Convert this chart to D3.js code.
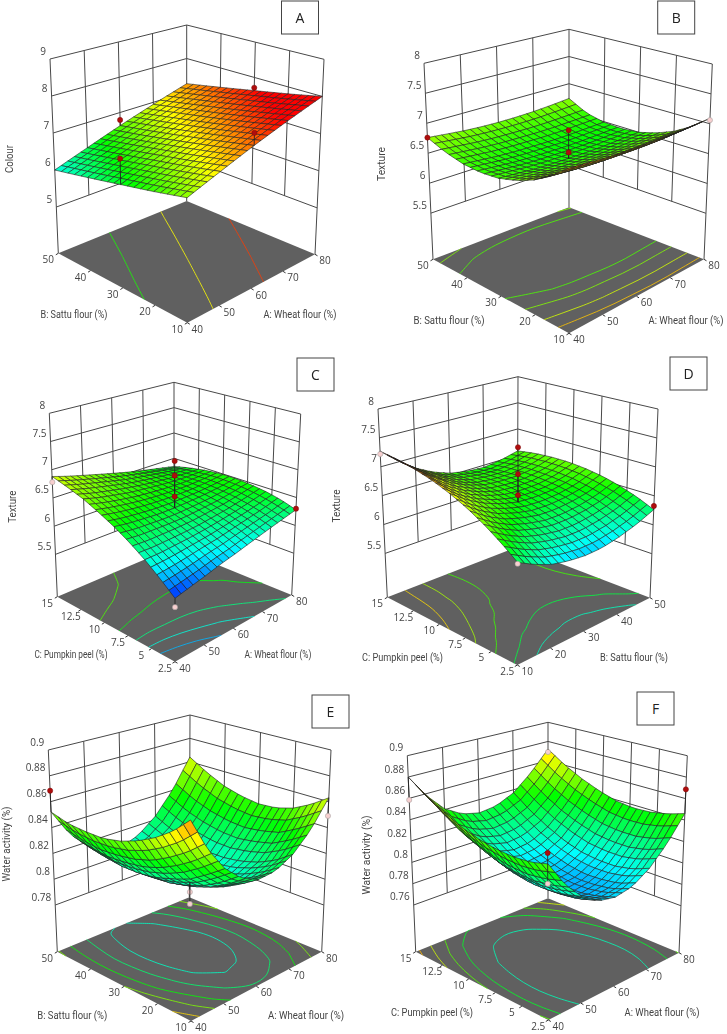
<!DOCTYPE html>
<html>
<head>
<meta charset="utf-8">
<script src="https://cdn.jsdelivr.net/npm/d3@7"></script>
<style>
  html, body { margin: 0; background: #fff; }
  svg { display: block; filter: blur(0.4px); }
  text { font-family: "Open Sans", sans-serif; fill: #444; }
  text.title { font-family: Roboto, sans-serif; }
</style>
</head>
<body>
<div class="chart"></div>
<script>
// tick labels
const wheatTicks = [40, 50, 60, 70, 80];
const sattuTicks = [10, 20, 30, 40, 50];
const peelTicks = [2.5, 5, 7.5, 10, 12.5, 15];
const colourTicks = [5, 6, 7, 8, 9];
const textureTicks = [5.5, 6, 6.5, 7, 7.5, 8];
const waterTicksE = [0.78, 0.8, 0.82, 0.84, 0.86, 0.88, 0.9];
const waterTicksF = [0.76, 0.78, 0.8, 0.82, 0.84, 0.86, 0.88, 0.9];

// surface heights, one row per step of the right hand factor
const colourAB = [
  [6.75, 6.56, 6.38, 6.19, 6.00],
  [7.06, 6.87, 6.69, 6.50, 6.31],
  [7.38, 7.19, 7.00, 6.81, 6.63],
  [7.69, 7.50, 7.31, 7.13, 6.94],
  [8.00, 7.81, 7.63, 7.44, 7.25]
];
const textureAB = [
  [7.17, 6.95, 6.78, 6.66, 6.58, 6.55, 6.57, 6.64, 6.76],
  [7.14, 6.92, 6.75, 6.63, 6.55, 6.52, 6.54, 6.61, 6.73],
  [7.11, 6.89, 6.72, 6.60, 6.52, 6.49, 6.51, 6.58, 6.70],
  [7.09, 6.87, 6.70, 6.58, 6.50, 6.47, 6.49, 6.56, 6.68],
  [7.08, 6.86, 6.69, 6.57, 6.49, 6.46, 6.48, 6.55, 6.67],
  [7.07, 6.85, 6.68, 6.56, 6.48, 6.45, 6.47, 6.54, 6.67],
  [7.07, 6.85, 6.68, 6.56, 6.48, 6.45, 6.47, 6.54, 6.68],
  [7.08, 6.86, 6.69, 6.57, 6.49, 6.46, 6.48, 6.55, 6.70],
  [7.09, 6.87, 6.70, 6.58, 6.50, 6.47, 6.49, 6.56, 6.73]
];
const textureAC = [
  [5.75, 5.95, 6.14, 6.31, 6.46, 6.59, 6.71, 6.80, 6.88],
  [5.81, 5.98, 6.14, 6.29, 6.42, 6.54, 6.64, 6.73, 6.80],
  [5.87, 6.02, 6.16, 6.29, 6.40, 6.50, 6.59, 6.67, 6.73],
  [5.94, 6.07, 6.18, 6.29, 6.38, 6.47, 6.54, 6.61, 6.66],
  [6.00, 6.11, 6.21, 6.30, 6.38, 6.45, 6.51, 6.55, 6.59],
  [6.07, 6.17, 6.25, 6.33, 6.39, 6.44, 6.48, 6.51, 6.52],
  [6.14, 6.23, 6.30, 6.36, 6.41, 6.44, 6.46, 6.47, 6.46],
  [6.21, 6.29, 6.36, 6.41, 6.44, 6.46, 6.45, 6.44, 6.40],
  [6.28, 6.37, 6.43, 6.47, 6.49, 6.49, 6.46, 6.41, 6.34]
];
const textureBC = [
  [6.31, 6.51, 6.69, 6.85, 6.98, 7.09, 7.17, 7.23, 7.27],
  [6.17, 6.36, 6.52, 6.66, 6.78, 6.87, 6.95, 6.99, 7.02],
  [6.06, 6.24, 6.39, 6.52, 6.63, 6.71, 6.77, 6.80, 6.81],
  [6.00, 6.17, 6.31, 6.43, 6.52, 6.59, 6.63, 6.65, 6.65],
  [5.97, 6.13, 6.26, 6.37, 6.45, 6.51, 6.54, 6.55, 6.54],
  [5.98, 6.13, 6.26, 6.36, 6.43, 6.48, 6.51, 6.51, 6.48],
  [6.04, 6.18, 6.30, 6.39, 6.45, 6.49, 6.51, 6.50, 6.46],
  [6.13, 6.26, 6.37, 6.45, 6.51, 6.54, 6.55, 6.54, 6.50],
  [6.26, 6.39, 6.49, 6.57, 6.62, 6.65, 6.65, 6.63, 6.58]
];
const waterAB = [
  [0.883, 0.871, 0.862, 0.855, 0.850, 0.847, 0.847, 0.848, 0.852],
  [0.858, 0.848, 0.840, 0.833, 0.829, 0.827, 0.826, 0.828, 0.831],
  [0.840, 0.831, 0.823, 0.818, 0.814, 0.812, 0.812, 0.814, 0.817],
  [0.828, 0.819, 0.812, 0.807, 0.804, 0.803, 0.803, 0.805, 0.809],
  [0.822, 0.814, 0.807, 0.803, 0.800, 0.799, 0.800, 0.803, 0.807],
  [0.823, 0.815, 0.809, 0.804, 0.802, 0.802, 0.803, 0.807, 0.812],
  [0.830, 0.821, 0.815, 0.811, 0.809, 0.809, 0.812, 0.816, 0.823],
  [0.843, 0.835, 0.828, 0.825, 0.823, 0.824, 0.827, 0.832, 0.840],
  [0.863, 0.854, 0.847, 0.843, 0.842, 0.844, 0.848, 0.855, 0.864]
];
const waterAC = [
  [0.847, 0.843, 0.842, 0.843, 0.846, 0.851, 0.859, 0.868, 0.880],
  [0.824, 0.820, 0.818, 0.819, 0.822, 0.828, 0.835, 0.846, 0.858],
  [0.808, 0.804, 0.802, 0.802, 0.805, 0.810, 0.818, 0.828, 0.841],
  [0.798, 0.793, 0.791, 0.791, 0.794, 0.799, 0.807, 0.818, 0.831],
  [0.795, 0.790, 0.787, 0.787, 0.790, 0.795, 0.803, 0.814, 0.827],
  [0.798, 0.792, 0.790, 0.789, 0.792, 0.797, 0.805, 0.816, 0.829],
  [0.808, 0.802, 0.799, 0.799, 0.801, 0.806, 0.814, 0.824, 0.837],
  [0.824, 0.818, 0.815, 0.815, 0.817, 0.822, 0.829, 0.839, 0.852],
  [0.846, 0.841, 0.838, 0.837, 0.839, 0.844, 0.851, 0.860, 0.872]
];

// contour levels on the floor
const levelsA = [6.5, 7, 7.5];
const levelsB = [6.6, 6.71, 6.87, 7.03];
const levelsC = [5.95, 6.1, 6.25, 6.43, 6.6];
const levelsD = [6.15, 6.35, 6.57, 6.78, 7];
const levelsE = [0.808, 0.82, 0.835, 0.85, 0.87];
const levelsF = [0.81, 0.83, 0.845, 0.86, 0.875];

// design points: x factor, y factor, response
const pointsA = [[40, 30, 7.04], [60, 50, 6.79], [80, 30, 7.71], [60, 10, 7.7]];
const pointsB = [[40, 50, 6.76], [80, 10, 7.06], [60, 30, 6.955], [60, 30, 6.59]];
const pointsC = [[40, 15, 6.78], [80, 2.5, 6.3], [40, 2.5, 5.61], [60, 8.75, 7.21], [60, 8.75, 6.95], [60, 8.75, 6.58]];
const pointsD = [[10, 15, 7.22], [50, 2.5, 6.325], [10, 2.5, 6.29], [30, 8.75, 7.39], [30, 8.75, 6.93], [30, 8.75, 6.57]];
const pointsE = [[40, 50, 0.8685], [80, 10, 0.849], [60, 30, 0.7927], [60, 30, 0.7835]];
const pointsF = [[40, 15, 0.8585], [80, 2.5, 0.8686], [80, 15, 0.869], [60, 8.75, 0.812], [60, 8.75, 0.7833]];

const rampColours = ['#0000ff', '#00ffff', '#00ff00', '#ffff00', '#ff0000'];
const colourRamp = [5.4, 5.95, 6.45, 7, 7.65];
const textureRamp = [5.7, 6.05, 6.45, 6.95, 7.3];
const waterRamp = [0.76, 0.8, 0.835, 0.865, 0.9];

// panel frames, corners of the floor and of the top of the box in page pixels
const panels = [
  { letter: 'A', box: [281.5, 1], grid: colourAB, levels: levelsA, points: pointsA, ramp: colourRamp,
    xTicks: wheatTicks, yTicks: sattuTicks, zTicks: colourTicks, zFloor: 3.75,
    floor: { F: [187.3, 322.7], R: [315, 254.3], L: [58.3, 253.3], B: [186.7, 201] },
    top: { F: [187, 104], R: [324, 59.3], L: [50, 59], B: [186.7, 25] },
    zTitle: ['Colour', 9, 159, 28], yTitle: ['B: Sattu flour (%)', 74, 314, 67], xTitle: ['A: Wheat flour (%)', 300, 314, 73] },
  { letter: 'B', box: [657.7, 1], grid: textureAB, levels: levelsB, points: pointsB, ramp: textureRamp,
    xTicks: wheatTicks, yTicks: sattuTicks, zTicks: textureTicks, zFloor: 4.73,
    floor: { F: [569, 333.3], R: [704, 259.3], L: [433, 259.3], B: [569, 207.3] },
    top: { F: [569, 112], R: [712.3, 64], L: [424, 63.3], B: [569, 29.3] },
    zTitle: ['Texture', 381.3, 164, 34], yTitle: ['B: Sattu flour (%)', 449, 320.7, 71], xTitle: ['A: Wheat flour (%)', 686, 320.7, 75] },
  { letter: 'C', box: [297, 358], grid: textureAC, levels: levelsC, points: pointsC, ramp: textureRamp,
    xTicks: wheatTicks, yTicks: peelTicks, zTicks: textureTicks, zFloor: 4.75,
    floor: { F: [175, 661.7], R: [291.7, 595], L: [57.3, 596.7], B: [174, 547] },
    top: { F: [175, 455.6], R: [300.7, 414], L: [49.3, 413.3], B: [174, 382.3] },
    zTitle: ['Texture', 12.7, 506.7, 32], yTitle: ['C: Pumpkin peel (%)', 71, 654.3, 73], xTitle: ['A: Wheat flour (%)', 278, 654.3, 67] },
  { letter: 'D', box: [670, 357], grid: textureBC, levels: levelsD, points: pointsD, ramp: textureRamp,
    xTicks: sattuTicks, yTicks: peelTicks, zTicks: textureTicks, zFloor: 4.74,
    floor: { F: [517.3, 665], R: [650, 597.7], L: [387.3, 597.3], B: [517.3, 547] },
    top: { F: [518, 452], R: [658, 409], L: [378, 409], B: [518, 376.7] },
    zTitle: ['Texture', 336.7, 506, 33], yTitle: ['C: Pumpkin peel (%)', 402.5, 657.3, 81], xTitle: ['B: Sattu flour (%)', 634, 657.3, 68] },
  { letter: 'E', box: [312, 695], grid: waterAB, levels: levelsE, points: pointsE, ramp: waterRamp,
    xTicks: wheatTicks, yTicks: sattuTicks, zTicks: waterTicksE, zFloor: 0.7439,
    floor: { F: [191, 1021], R: [321.7, 951.7], L: [57.3, 951.7], B: [189.3, 897.3] },
    top: { F: [190.5, 795.4], R: [331, 750], L: [48.3, 750], B: [190, 715] },
    zTitle: ['Water activity (%)', 6.7, 844, 75], yTitle: ['B: Sattu flour (%)', 72.3, 1015, 70], xTitle: ['A: Wheat flour (%)', 306, 1015, 76] },
  { letter: 'F', box: [637, 692], grid: waterAC, levels: levelsF, points: pointsF, ramp: waterRamp,
    xTicks: wheatTicks, yTicks: peelTicks, zTicks: waterTicksF, zFloor: 0.7162,
    floor: { F: [548.3, 1020], R: [679, 952.7], L: [415.7, 951.7], B: [548, 898.3] },
    top: { F: [548, 800.7], R: [687.3, 755.7], L: [407.3, 755.7], B: [548, 722.3] },
    zTitle: ['Water activity (%)', 366, 855, 79], yTitle: ['C: Pumpkin peel (%)', 432, 1012.3, 82], xTitle: ['A: Wheat flour (%)', 662, 1012.3, 75] }
];

const w = 727;
const h = 1034;
const meshCells = 20;

const svg = d3.select('.chart')
              .append('svg')
              .attr('width', w)
              .attr('height', h);

const line = d3.line();
const smooth = d3.line().curve(d3.curveCatmullRom);

function lerp(a, b, t) {
  return a + (b - a) * t;
}

function quadPoint(q, u, v) {
  return [0, 1].map(k => lerp(lerp(q.F[k], q.R[k], u), lerp(q.L[k], q.B[k], u), v));
}

function drawPanel(p) {
  const g = svg.append('g');

  const xScale = d3.scaleLinear().domain(d3.extent(p.xTicks)).range([0, 1]);
  const yScale = d3.scaleLinear().domain(d3.extent(p.yTicks)).range([0, 1]);
  const zScale = d3.scaleLinear().domain([p.zFloor, d3.max(p.zTicks)]).range([0, 1]);
  const colour = d3.scaleLinear().domain(p.ramp).range(rampColours).clamp(true);

  const project = (u, v, z) => {
    const f = quadPoint(p.floor, u, v);
    const c = quadPoint(p.top, u, v);
    const t = zScale(z);
    return [lerp(f[0], c[0], t), lerp(f[1], c[1], t)];
  };

  const nx = p.grid.length - 1;
  const ny = p.grid[0].length - 1;
  const height = (u, v) => {
    const i = Math.min(Math.floor(u * nx), nx - 1);
    const j = Math.min(Math.floor(v * ny), ny - 1);
    const a = u * nx - i;
    const b = v * ny - j;
    return lerp(lerp(p.grid[i][j], p.grid[i + 1][j], a), lerp(p.grid[i][j + 1], p.grid[i + 1][j + 1], a), b);
  };

  // floor
  g.append('path')
   .attr('d', line([p.floor.F, p.floor.R, p.floor.B, p.floor.L]) + 'Z')
   .attr('fill', '#606060');

  // walls
  const zLow = d3.min(p.zTicks);
  const zHigh = d3.max(p.zTicks);
  const wall = (a, b) => g.append('path')
    .attr('d', line([a, b]))
    .attr('fill', 'none')
    .attr('stroke', '#484848')
    .attr('stroke-width', 1);

  p.zTicks.forEach(z => {
    wall(project(0, 1, z), project(1, 1, z));
    wall(project(1, 1, z), project(1, 0, z));
  });
  p.xTicks.slice(1, -1).forEach(x => wall(project(xScale(x), 1, zLow), project(xScale(x), 1, zHigh)));
  p.yTicks.slice(1, -1).forEach(y => wall(project(1, yScale(y), zLow), project(1, yScale(y), zHigh)));
  wall(project(0, 1, p.zFloor), project(0, 1, zHigh));
  wall(project(1, 1, p.zFloor), project(1, 1, zHigh));
  wall(project(1, 0, p.zFloor), project(1, 0, zHigh));

  // contours, only the parts that are inside the grid
  const flat = [];
  for (let j = 0; j <= ny; j++) {
    for (let i = 0; i <= nx; i++) flat.push(p.grid[i][j]);
  }
  const inside = q => q[0] >= 0.499 && q[0] <= nx + 0.501 && q[1] >= 0.499 && q[1] <= ny + 0.501;
  d3.contours().size([nx + 1, ny + 1]).thresholds(p.levels)(flat).forEach(c => {
    c.coordinates.forEach(poly => poly.forEach(ring => {
      const pts = ring.slice(0, -1);
      const start = pts.findIndex(q => !inside(q));
      const runs = [];
      if (start < 0) {
        runs.push(ring);
      } else {
        let run = [];
        for (let n = 0; n <= pts.length; n++) {
          const q = pts[(start + n) % pts.length];
          if (inside(q)) {
            run.push(q);
          } else {
            if (run.length > 1) runs.push(run);
            run = [];
          }
        }
      }
      runs.forEach(r => {
        g.append('path')
         .attr('d', smooth(r.map(q => project((q[0] - 0.5) / nx, (q[1] - 0.5) / ny, p.zFloor))))
         .attr('fill', 'none')
         .attr('stroke', colour(c.value))
         .attr('stroke-opacity', 0.8)
         .attr('stroke-width', 1);
      });
    }));
  });

  // surface, painted from the back corner to the front corner
  const cells = [];
  d3.range(meshCells).forEach(i => d3.range(meshCells).forEach(j => cells.push([i, j])));
  cells.sort((a, b) => d3.descending(a[0] + a[1], b[0] + b[1]));

  g.append('g').selectAll('path')
   .data(cells)
   .enter()
   .append('path')
   .attr('d', d => {
     const corners = [[0, 0], [1, 0], [1, 1], [0, 1]].map(o => {
       const u = (d[0] + o[0]) / meshCells;
       const v = (d[1] + o[1]) / meshCells;
       return project(u, v, height(u, v));
     });
     return line(corners) + 'Z';
   })
   .attr('fill', d => colour(height((d[0] + 0.5) / meshCells, (d[1] + 0.5) / meshCells)))
   .attr('stroke', '#222')
   .attr('stroke-width', 0.6)
   .attr('stroke-linejoin', 'round');

  // design points and their stems
  p.points.forEach(d => {
    const u = xScale(d[0]);
    const v = yScale(d[1]);
    const surface = height(u, v);
    const at = project(u, v, d[2]);
    g.append('path')
     .attr('d', line([at, project(u, v, surface)]))
     .attr('stroke', '#222')
     .attr('stroke-width', 0.9);
    g.append('circle')
     .attr('cx', at[0])
     .attr('cy', at[1])
     .attr('r', 2.6)
     .attr('fill', d[2] >= surface ? '#b00d0d' : '#f7cfcf')
     .attr('stroke', d[2] >= surface ? '#7a0a0a' : '#999')
     .attr('stroke-width', 0.5);
  });

  // z axis labels
  p.zTicks.forEach(z => {
    const q = project(0, 1, z);
    g.append('text')
     .attr('x', q[0] - 4)
     .attr('y', q[1] - 8)
     .attr('dy', '0.35em')
     .style('text-anchor', 'end')
     .style('font-size', '10px')
     .text(z);
  });

  // floor axes
  const floorTick = (q, dx, label) => {
    g.append('path')
     .attr('d', line([q, [q[0] + dx * 0.25, q[1] + 1.5]]))
     .attr('stroke', '#333');
    g.append('text')
     .attr('x', q[0] + dx)
     .attr('y', q[1] + 6.5)
     .attr('dy', '0.35em')
     .style('text-anchor', 'middle')
     .style('font-size', '10px')
     .text(label);
  };
  p.xTicks.forEach(x => floorTick(quadPoint(p.floor, xScale(x), 0), 10, x));
  p.yTicks.forEach(y => floorTick(quadPoint(p.floor, 0, yScale(y)), -10, y));

  // axis titles
  [p.xTitle, p.yTitle].forEach(t => {
    g.append('text')
     .attr('class', 'title')
     .attr('x', t[1])
     .attr('y', t[2])
     .attr('dy', '0.35em')
     .attr('textLength', t[3])
     .attr('lengthAdjust', 'spacingAndGlyphs')
     .style('text-anchor', 'middle')
     .style('font-size', '10px')
     .text(t[0]);
  });
  g.append('text')
   .attr('class', 'title')
   .attr('transform', `translate(${p.zTitle[1]}, ${p.zTitle[2]}) rotate(-90)`)
   .attr('dy', '0.35em')
   .attr('textLength', p.zTitle[3])
   .attr('lengthAdjust', 'spacingAndGlyphs')
   .style('text-anchor', 'middle')
   .style('font-size', '10px')
   .text(p.zTitle[0]);

  // panel letter
  g.append('rect')
   .attr('x', p.box[0])
   .attr('y', p.box[1])
   .attr('width', 37)
   .attr('height', 33)
   .attr('fill', '#fff')
   .attr('stroke', '#444');
  g.append('text')
   .attr('x', p.box[0] + 18.5)
   .attr('y', p.box[1] + 17)
   .attr('dy', '0.35em')
   .style('text-anchor', 'middle')
   .style('font-size', '14px')
   .style('fill', '#222')
   .text(p.letter);
}

panels.forEach(drawPanel);
</script>
</body>
</html>
